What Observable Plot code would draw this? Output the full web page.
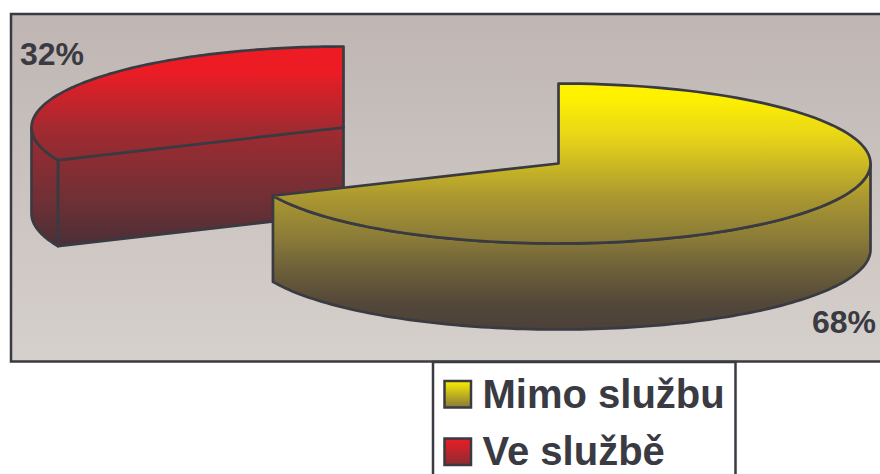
<!DOCTYPE html>
<html>
<head>
<meta charset="utf-8">
<style>html,body{margin:0;padding:0;background:#fff;overflow:hidden}svg{display:block}</style>
<script src="https://cdn.jsdelivr.net/npm/d3@7"></script>
<script src="https://cdn.jsdelivr.net/npm/@observablehq/plot@0.6"></script>
</head>
<body>
<div id="chart"></div>
<script>
// Data
const categories = ["Mimo službu", "Ve službě"];
const shares = [68.4, 31.6];
const percentLabels = ["68%", "32%"];

// Presentation
const ink = "#3a3a42";
const font = "'Liberation Sans', Arial, sans-serif";
const gradients = {
  panel: {y1: 14, y2: 361, stops: [[0, "#bfb6b3"], [1, "#d6d0cd"]]},
  g0: {y1: 83, y2: 329, stops: [[0, "#fff200"], [0.05, "#fff200"], [0.215, "#e8d518"], [0.46, "#ab9830"], [0.63, "#8a7b38"], [0.76, "#6c5f39"], [0.9, "#524739"], [1, "#4b4139"]]},
  g1: {y1: 46, y2: 246, stops: [[0, "#ed1c24"], [0.12, "#ed1c24"], [0.41, "#a22a30"], [0.57, "#8a2d33"], [0.77, "#6f3035"], [1, "#4a2f37"]]},
  k0: {y1: 380, y2: 408, stops: [[0, "#fff200"], [1, "#85763a"]]},
  k1: {y1: 438, y2: 465, stops: [[0, "#ed1c24"], [1, "#8c2c33"]]}
};
const pies = [
  {cx: 558, cy: 163, rx: 312, ry: 80, depth: 86},
  {cx: 343, cy: 127, rx: 312, ry: 81, depth: 86}
];

// Angles (clockwise from 12 o'clock) come from the shares
const toAngle = (s) => (s / d3.sum(shares)) * 2 * Math.PI;
const spans = [
  {a0: 0, a1: toAngle(shares[0])},
  {a0: toAngle(shares[0]), a1: 2 * Math.PI}
];
const pt = (p, a, drop = 0) => ({x: p.cx + p.rx * Math.sin(a), y: p.cy - p.ry * Math.cos(a) + drop});
const arc = (p, a0, a1, drop = 0) => d3.range(0, 121).map((i) => pt(p, a0 + ((a1 - a0) * i) / 120, drop));
const apex = (p, drop = 0) => ({x: p.cx, y: p.cy + drop});

function closed(points) { return [...points, points[0]]; }
function topFace(i) {
  const p = pies[i], s = spans[i];
  return closed([apex(p), ...arc(p, s.a0, s.a1)]);
}
function wall(i, a0, a1) {
  const p = pies[i];
  return closed([...arc(p, a0, a1), ...arc(p, a0, a1, p.depth).reverse()]);
}
function cutFace(i) {
  const p = pies[i], a = spans[i].a0;
  return closed([apex(p), pt(p, a), pt(p, a, p.depth), apex(p, p.depth)]);
}

const face = (points, id) => Plot.line(points, {
  x: "x", y: "y", fill: `url(#${id})`, stroke: ink, strokeWidth: 2.7,
  strokeLinejoin: "round", curve: "linear"
});

const defs = (index, {y}) => {
  const d = d3.create("svg:defs");
  for (const [id, g] of Object.entries(gradients)) {
    const lg = d.append("linearGradient").attr("id", id)
      .attr("gradientUnits", "userSpaceOnUse")
      .attr("x1", 0).attr("x2", 0).attr("y1", y(g.y1)).attr("y2", y(g.y2));
    for (const [o, c] of g.stops) lg.append("stop").attr("offset", o).attr("stop-color", c);
  }
  return d.node();
};

const legendRows = categories.map((name, i) => ({
  name, id: `k${i}`, x1: 444.5, x2: 471, y1: 381 + i * 57.5, y2: 407.5 + i * 57.5, tx: 482, ty: 407 + i * 57.5
}));

const labelRows = [
  {t: percentLabels[0], x: 811.5, y: 332},
  {t: percentLabels[1], x: 19.5, y: 64}
];

const chart = Plot.plot({
  width: 880, height: 474,
  marginTop: 0, marginRight: 0, marginBottom: 0, marginLeft: 0,
  x: {axis: null, domain: [0, 880], range: [0, 880]},
  y: {axis: null, domain: [0, 474], range: [0, 474]},
  style: {background: "#fff", overflow: "hidden"},
  marks: [
    defs,
    Plot.rect([{}], {x1: () => 11, x2: () => 884, y1: () => 14, y2: () => 361.5,
      fill: "url(#panel)", stroke: ink, strokeWidth: 2.5}),
    // Ve službě: exploded slice at the back
    face(cutFace(1), "g1"),
    face(wall(1, spans[1].a0, 1.5 * Math.PI), "g1"),
    face(topFace(1), "g1"),
    // Mimo službu: slice in front
    face(wall(0, 0.5 * Math.PI, spans[0].a1), "g0"),
    face(topFace(0), "g0"),
    // Percent labels
    Plot.text(labelRows, {x: "x", y: "y", text: "t", textAnchor: "start", lineAnchor: "bottom",
      fontSize: 32, fontWeight: "bold", fontFamily: font, fill: ink}),
    // Legend
    Plot.rect([{}], {x1: () => 433, x2: () => 735.5, y1: () => 362, y2: () => 490,
      fill: "#fff", stroke: ink, strokeWidth: 2.5}),
    ...legendRows.map((r) => Plot.rect([r], {x1: "x1", x2: "x2", y1: "y1", y2: "y2",
      fill: `url(#${r.id})`, stroke: ink, strokeWidth: 2.5})),
    Plot.text(legendRows, {x: "tx", y: "ty", text: "name", textAnchor: "start", lineAnchor: "bottom",
      fontSize: 40, fontWeight: "bold", fontFamily: font, fill: ink})
  ]
});
document.getElementById("chart").append(chart);
</script>
</body>
</html>
